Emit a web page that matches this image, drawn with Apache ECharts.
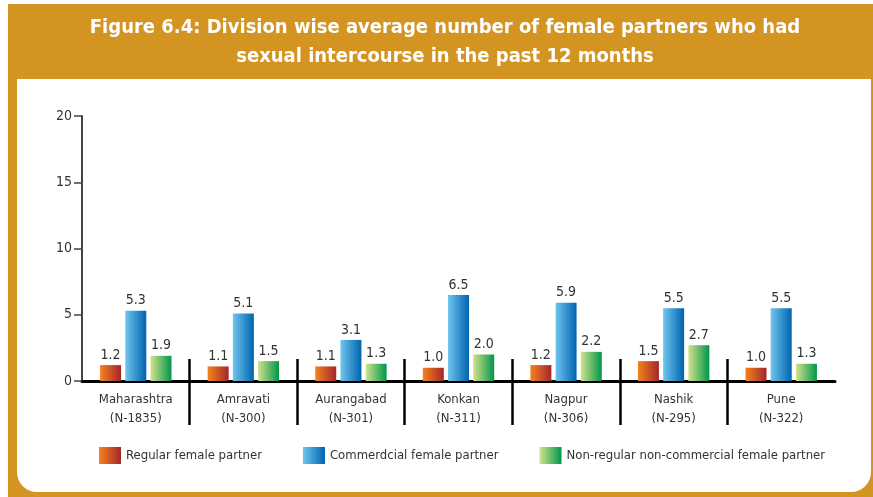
<!DOCTYPE html>
<html>
<head>
<meta charset="utf-8">
<script src="https://cdn.jsdelivr.net/npm/echarts@6/dist/echarts.min.js"></script>
<style>
  html, body { margin: 0; padding: 0; background: #ffffff; }
  #wrap { position: relative; width: 873px; height: 497px; overflow: hidden; }
  /* golden frame with the header band */
  #frame { position: absolute; left: 8px; top: 4px; width: 870px; height: 493px; background: #d39422; }
  /* white content panel with rounded lower corners */
  #panel { position: absolute; left: 17px; top: 79px; width: 854px; height: 413px; background: #ffffff;
           border-bottom-left-radius: 20px; border-bottom-right-radius: 20px; }
  #chart { position: absolute; left: 0; top: 0; width: 873px; height: 497px; }
</style>
</head>
<body>
<div id="wrap">
  <div id="frame"></div>
  <div id="panel"></div>
  <div id="chart"></div>
</div>
<script>
// Divisions and their sample sizes
const divisions = ['Maharashtra', 'Amravati', 'Aurangabad', 'Konkan', 'Nagpur', 'Nashik', 'Pune'];
const sampleSizes = ['N-1835', 'N-300', 'N-301', 'N-311', 'N-306', 'N-295', 'N-322'];

// Average number of female partners, by partner type
const regularPartner = [1.2, 1.1, 1.1, 1.0, 1.2, 1.5, 1.0];
const commercialPartner = [5.3, 5.1, 3.1, 6.5, 5.9, 5.5, 5.5];
const nonRegularPartner = [1.9, 1.5, 1.3, 2.0, 2.2, 2.7, 1.3];

const seriesNames = ['Regular female partner', 'Commerdcial female partner', 'Non-regular non-commercial female partner'];

// Value axis ticks
const yTicks = [0, 5, 10, 15, 20];

const FONT = '"Liberation Sans Narrow", "Arial Narrow", "DejaVu Sans Condensed", sans-serif';
const TEXT = '#333333';

function hGrad(from, to) {
  return new echarts.graphic.LinearGradient(0, 0, 1, 0, [
    { offset: 0, color: from },
    { offset: 1, color: to }
  ]);
}

const categoryLabels = divisions.map((d, i) => d + '\n(' + sampleSizes[i] + ')');

const chart = echarts.init(document.getElementById('chart'), null, { renderer: 'canvas' });

function barSeries(name, data, from, to) {
  return {
    name: name,
    type: 'bar',
    xAxisIndex: 0,
    yAxisIndex: 0,
    data: data,
    barWidth: 21,
    barGap: '20%',
    itemStyle: { color: hGrad(from, to) },
    label: {
      show: true,
      position: 'top',
      distance: 3,
      formatter: p => p.value.toFixed(1),
      fontFamily: FONT,
      fontSize: 14,
      color: TEXT
    }
  };
}

chart.setOption({
  backgroundColor: 'transparent',
  animation: false,
  title: {
    text: 'Figure 6.4: Division wise average number of female partners who had\nsexual intercourse in the past 12 months',
    left: 440,
    top: 8,
    textAlign: 'center',
    textStyle: {
      fontFamily: FONT,
      fontWeight: 'bold',
      fontSize: 20,
      lineHeight: 29,
      color: '#ffffff'
    }
  },
  legend: {
    left: 99,
    top: 447,
    width: 760,
    padding: 0,
    itemWidth: 22,
    itemHeight: 17,
    itemGap: 41,
    icon: 'rect',
    data: seriesNames,
    textStyle: { fontFamily: FONT, fontSize: 13, color: TEXT }
  },
  grid: [
    { left: 82, right: 38, top: 116, bottom: 116 },
    // band used only for the division separators crossing the baseline
    { left: 82, right: 38, top: 359, bottom: 72 }
  ],
  xAxis: [
    {
      type: 'category',
      gridIndex: 0,
      data: categoryLabels,
      axisLine: { show: true, lineStyle: { color: '#000000', width: 3 } },
      axisTick: { show: false },
      axisLabel: {
        interval: 0,
        margin: 9,
        fontFamily: FONT,
        fontSize: 13,
        lineHeight: 19,
        color: TEXT
      }
    },
    {
      type: 'value',
      gridIndex: 1,
      min: 0,
      max: divisions.length,
      interval: 1,
      axisLine: { show: false },
      axisTick: { show: false },
      axisLabel: { show: false },
      splitLine: {
        show: true,
        showMinLine: false,
        showMaxLine: false,
        lineStyle: { color: '#000000', width: 2.5, type: 'solid' }
      }
    }
  ],
  yAxis: [
    {
      type: 'value',
      gridIndex: 0,
      min: yTicks[0],
      max: yTicks[yTicks.length - 1],
      interval: yTicks[1] - yTicks[0],
      axisLine: { show: true, lineStyle: { color: '#444444', width: 2 } },
      axisTick: { show: true, length: 8, lineStyle: { color: '#444444', width: 1.5 } },
      splitLine: { show: false },
      axisLabel: { margin: 10, fontFamily: FONT, fontSize: 14, color: TEXT }
    },
    { type: 'value', gridIndex: 1, show: false, min: 0, max: 1 }
  ],
  series: [
    barSeries(seriesNames[0], regularPartner, '#f5821f', '#a3262a'),
    barSeries(seriesNames[1], commercialPartner, '#6fc5ef', '#0063ae'),
    barSeries(seriesNames[2], nonRegularPartner, '#d2e28c', '#00964a')
  ]
});
</script>
</body>
</html>
